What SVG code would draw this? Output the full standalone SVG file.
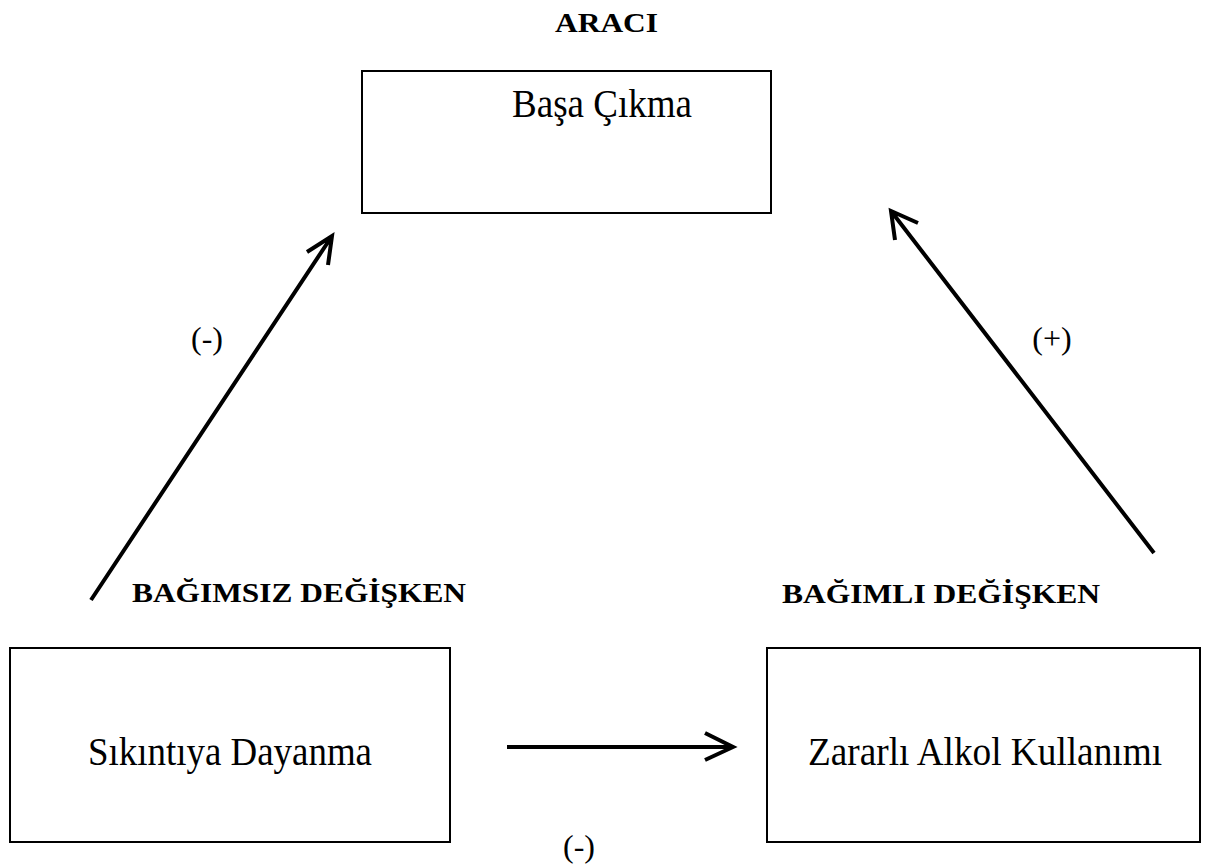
<svg xmlns="http://www.w3.org/2000/svg" width="1207" height="868" viewBox="0 0 1207 868">
<style>
.box{fill:#fff;stroke:#000;stroke-width:2}
.t{font-family:"Liberation Serif","Times New Roman",serif;font-size:40px;fill:#000}
.b{font-family:"Liberation Serif","Times New Roman",serif;font-size:27px;font-weight:bold;fill:#000}
.l{font-family:"Liberation Serif","Times New Roman",serif;font-size:32px;fill:#000;text-anchor:middle}
.c{fill:none;stroke:#000;stroke-width:4}
</style>
<rect width="1207" height="868" fill="#fff"/>
<text class="b" x="555" y="32" font-size="28" textLength="103" lengthAdjust="spacingAndGlyphs">ARACI</text>
<g id="node-basa">
<rect class="box" x="362" y="71" width="409" height="142"/>
<text class="t" x="512" y="117" font-size="39" textLength="180" lengthAdjust="spacingAndGlyphs">Başa Çıkma</text>
</g>
<g id="node-sikinti">
<text class="b" x="132" y="602" textLength="334" lengthAdjust="spacingAndGlyphs">BAĞIMSIZ DEĞİŞKEN</text>
<rect class="box" x="10" y="648" width="440" height="194"/>
<text class="t" x="88" y="765" textLength="284" lengthAdjust="spacingAndGlyphs">Sıkıntıya Dayanma</text>
</g>
<g id="node-zararli">
<text class="b" x="782" y="603" textLength="318" lengthAdjust="spacingAndGlyphs">BAĞIMLI DEĞİŞKEN</text>
<rect class="box" x="767" y="648" width="433" height="194"/>
<text class="t" x="808" y="765" textLength="354" lengthAdjust="spacingAndGlyphs">Zararlı Alkol Kullanımı</text>
</g>
<g id="connectors">
<path class="c" d="M91,600 L332,236 M307,252 L332,236 L328,265"/>
<path class="c" d="M1154,553 L891,211 M918,223 L891,211 L895,240"/>
<path class="c" d="M507,747 L733,747 M705,733 L733,747 L705,760"/>
<text class="l" x="207" y="349">(-)</text>
<text class="l" x="1052" y="349">(+)</text>
<text class="l" x="579" y="857">(-)</text>
</g>
</svg>
